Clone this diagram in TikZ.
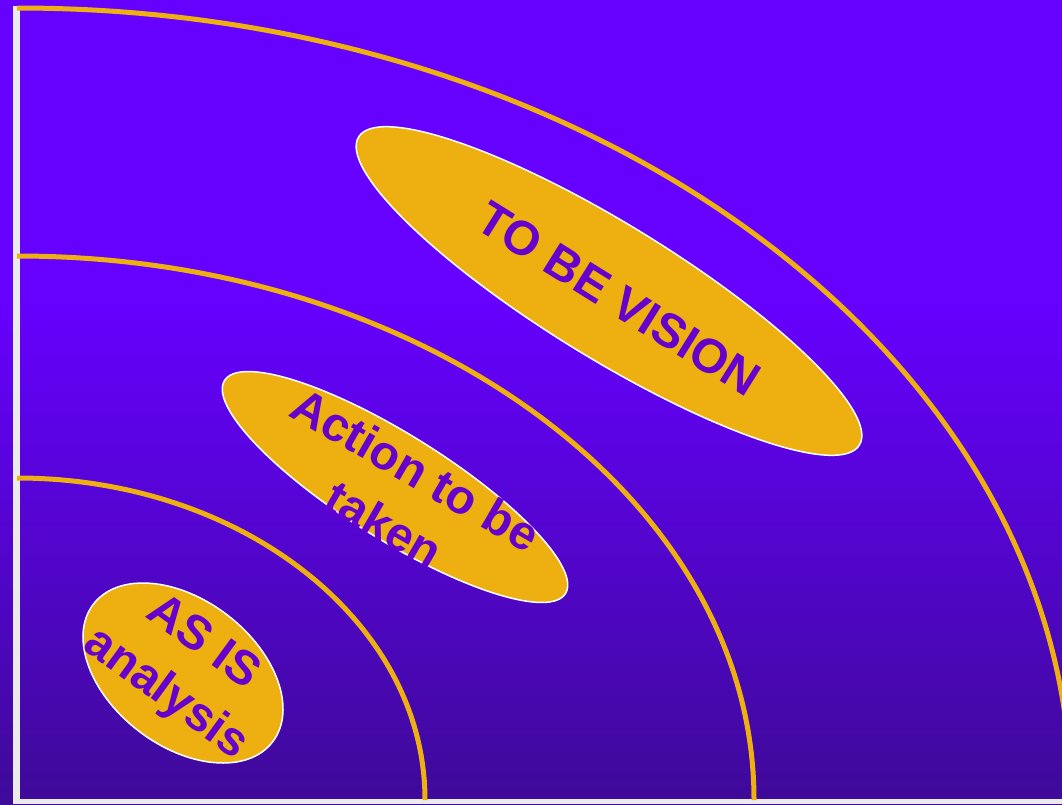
\documentclass[tikz,border=0pt]{standalone}
\usepackage{fontspec}
\setmainfont{Liberation Sans}
\usetikzlibrary{shapes.geometric}
\definecolor{gold}{RGB}{238,176,16}
\definecolor{plum}{RGB}{102,0,204}
\definecolor{frame}{RGB}{235,235,235}
\definecolor{skytop}{RGB}{102,0,255}
\definecolor{skybot}{RGB}{62,10,152}

\begin{document}
\begin{tikzpicture}[x=1pt,y=-1pt,
    blob/.style={ellipse,fill=gold,draw=white,line width=1.5pt,inner sep=0pt},
    word/.style={font=\fontsize{48}{63}\selectfont\bfseries,text=plum,align=center},
    ring/.style={gold,line width=5pt}]
    \useasboundingbox (0,0) rectangle (1062,804);
    \clip (0,0) rectangle (1062,804);
    \fill[skytop] (0,0) rectangle (1062,301);
    \shade[top color=skytop,bottom color=skybot] (0,300) rectangle (1062,804);
    \fill[frame] (13,6) rectangle (20,804);
    \fill[frame] (13,799) rectangle (1062,804);
    \foreach \ry/\rx in {322/408,544/737,792/1054}{ \draw[ring] (17,{800-\ry}) arc[start angle=-90,end angle=0,x radius=\rx,y radius=\ry]; }
    \node[blob,minimum width=588pt,minimum height=134pt,rotate=-31.6] (vision) at (609,291) {};
    \node[blob,minimum width=402pt,minimum height=105pt,rotate=-32] (action) at (395,487) {};
    \node[blob,minimum width=226pt,minimum height=146pt,rotate=-37.6] (asis) at (183,673) {};
    \node[word,rotate=-32] (visiontext) at (619,299) {TO BE VISION};
    \node[word,rotate=-30] (actiontext) at (400,497) {Action to be\\taken};
    \node[word,rotate=-36] (asistext) at (184,669) {AS IS\\analysis};
  \end{tikzpicture}
\end{document}
